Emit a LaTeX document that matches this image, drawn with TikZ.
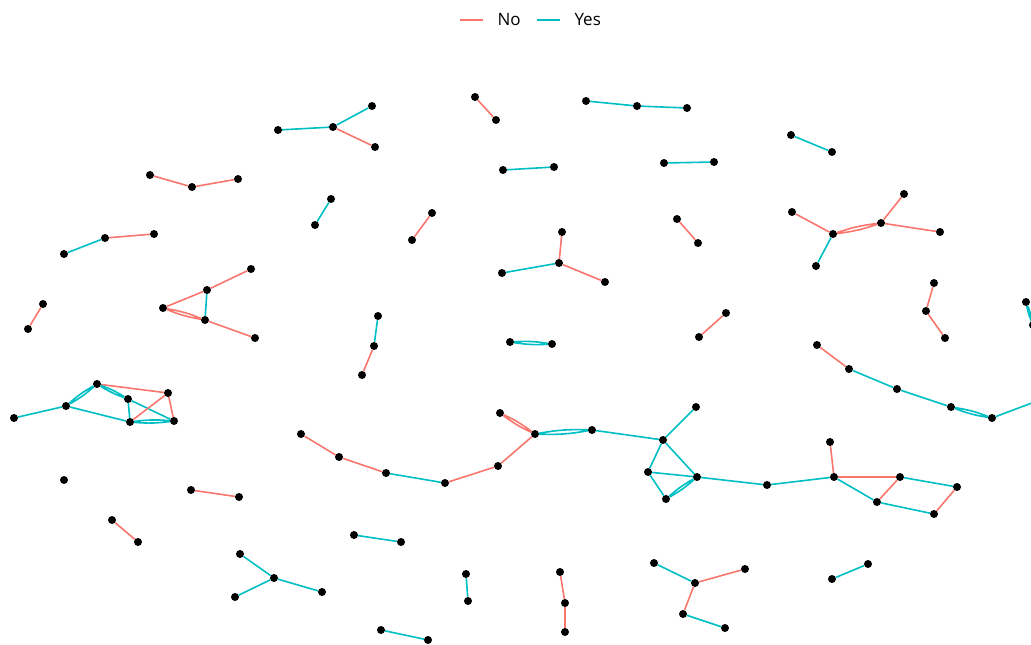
\documentclass[tikz,border=0pt]{standalone}
\usepackage{fontspec}
\setsansfont{Open Sans}
\definecolor{noline}{HTML}{F8766D}
\definecolor{yesline}{HTML}{00BFC4}
\tikzset{
  vertex/.style={circle,fill=black,inner sep=0pt,minimum size=8pt},
  noedge/.style={noline,line width=1.6pt},
  yesedge/.style={yesline,line width=1.6pt},
  keytext/.style={anchor=west,text=black,font=\sffamily\fontsize{17}{20}\selectfont},
}
\begin{document}
\begin{tikzpicture}[x=1pt,y=-1pt]
  \clip (0,0) rectangle (1031,645);
  % vertices, in pixel positions
  \foreach \n/\x/\y in {A1/278/130,A2/333/127,A3/372/106,A4/375/147,B1/475/97,B2/496/120,
      C1/586/101,C2/637/106,C3/687/108,D1/150/175,D2/192/187,D3/238/179,E1/503/170,E2/554/167,
      F1/664/163,F2/714/162,G1/791/135,G2/832/152,H1/331/199,H2/315/225,I1/432/213,I2/412/240,
      J1/64/254,J2/105/238,J3/154/234,K1/677/219,K2/698/243,
      L1/792/212,L2/833/234,L3/881/223,L4/904/194,L5/940/232,L6/816/266,
      M1/562/232,M2/559/263,M3/502/273,M4/605/282,N1/43/304,N2/28/329,
      O1/163/308,O2/207/290,O3/251/269,O4/205/320,O5/255/338,
      P1/378/316,P2/374/346,P3/362/375,Q1/510/342,Q2/552/344,R1/726/313,R2/699/337,
      S1/934/283,S2/926/311,S3/945/338,T1/1026/302,T2/1033/325,
      U1/817/345,U2/849/369,U3/897/389,U4/951/407,U5/992/418,U6/1045/398,
      V1/14/418,V2/66/406,V3/97/384,V4/128/399,V5/168/393,V6/130/422,V7/174/421,
      W1/301/434,W2/339/457,W3/386/473,W4/445/483,W5/498/466,W6/535/434,W7/500/413,
      W8/592/430,W9/663/440,W10/696/407,W11/648/472,W12/697/477,W13/666/499,W14/767/485,
      W15/834/477,W16/830/442,W17/900/477,W18/877/502,W19/957/487,W20/934/514,
      X1/64/480,Y1/191/490,Y2/239/497,Z1/112/520,Z2/138/542,AB1/354/535,AB2/401/542,
      AC1/240/554,AC2/274/578,AC3/235/597,AC4/322/592,AD1/466/574,AD2/468/601,
      AE1/560/572,AE2/565/603,AE3/565/632,AF1/654/563,AF2/695/583,AF3/745/569,
      AF4/683/614,AF5/725/628,AG1/832/579,AG2/868/564,AH1/381/630,AH2/428/640}{
    \node[vertex] (\n) at (\x,\y) {};
  }
  % single edges
  \foreach \a/\b in {A1/A2,A2/A3,C1/C2,C2/C3,E1/E2,F1/F2,G1/G2,H1/H2,J1/J2,L2/L6,M3/M2,
      O2/O4,P1/P2,U2/U3,U3/U4,U5/U6,V1/V2,V2/V6,V4/V6,V4/V7,W3/W4,W8/W9,W9/W10,W9/W11,
      W9/W12,W11/W12,W11/W13,W12/W14,W14/W15,W15/W18,W17/W19,W18/W20,AB1/AB2,AC1/AC2,
      AC2/AC3,AC2/AC4,AD1/AD2,AF1/AF2,AF4/AF5,AG1/AG2,AH1/AH2}{
    \draw[yesedge] (\a) -- (\b);
  }
  \foreach \a/\b in {A2/A4,B1/B2,D1/D2,D2/D3,I1/I2,J2/J3,K1/K2,L1/L2,L3/L4,L3/L5,M1/M2,
      M2/M4,N1/N2,O1/O2,O2/O3,O4/O5,P2/P3,R1/R2,S1/S2,S2/S3,U1/U2,V3/V5,V5/V7,V6/V5,
      W1/W2,W2/W3,W4/W5,W5/W6,W16/W15,W15/W17,W18/W17,W20/W19,Y1/Y2,Z1/Z2,AE1/AE2,
      AE2/AE3,AF2/AF3,AF2/AF4}{
    \draw[noedge] (\a) -- (\b);
  }
  % double edges
  \foreach \a/\b in {Q1/Q2,T1/T2,U4/U5,V2/V3,V3/V4,V6/V7,W6/W8,W13/W12}{
    \draw[yesedge] (\a) to[bend left=6] (\b) (\a) to[bend right=6] (\b);
  }
  \foreach \a/\b in {L2/L3,O1/O4,W7/W6}{
    \draw[noedge] (\a) to[bend left=6] (\b) (\a) to[bend right=6] (\b);
  }
  % legend
  \coordinate (keyno0) at (460,20);
  \coordinate (keyno1) at (483,20);
  \coordinate (keyyes0) at (537,20);
  \coordinate (keyyes1) at (560,20);
  \draw[noline,line width=1.6pt] (keyno0) -- (keyno1);
  \draw[yesline,line width=1.6pt] (keyyes0) -- (keyyes1);
  \node[keytext] (labno) at (494,20) {No};
  \node[keytext] (labyes) at (571,20) {Yes};
\end{tikzpicture}
\end{document}
